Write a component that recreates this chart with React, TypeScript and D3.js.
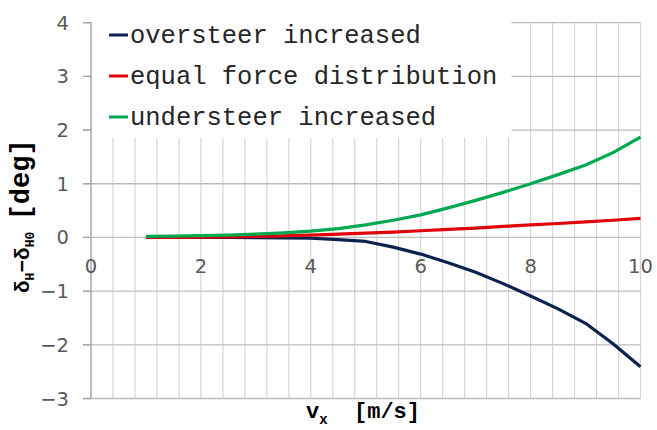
import React from "react";
import * as d3 from "d3";

const xValues = [1, 1.5, 2, 2.5, 3, 3.5, 4, 4.5, 5, 5.5, 6, 6.5, 7, 7.5, 8, 8.5, 9, 9.5, 10];
const oversteer = [0, 0, 0, -0.001, -0.003, -0.008, -0.015, -0.04, -0.075, -0.18, -0.31, -0.47, -0.65, -0.86, -1.09, -1.33, -1.6, -1.98, -2.41];
const equalForce = [0, 0.002, 0.005, 0.01, 0.018, 0.028, 0.042, 0.06, 0.08, 0.1, 0.125, 0.15, 0.175, 0.205, 0.235, 0.26, 0.29, 0.32, 0.355];
const understeer = [0.02, 0.025, 0.033, 0.045, 0.062, 0.085, 0.118, 0.165, 0.235, 0.32, 0.42, 0.55, 0.69, 0.84, 1.0, 1.17, 1.35, 1.58, 1.87];

const seriesNames = ["oversteer increased", "equal force distribution", "understeer increased"];
const seriesColors = ["#0d2150", "#e0000b", "#00a84f"];
const seriesData = [oversteer, equalForce, understeer];

const xTicks = [0, 2, 4, 6, 8, 10];
const yTicks = [-3, -2, -1, 0, 1, 2, 3, 4];

export default function App() {
  const W = 657, H = 430;
  const x = d3.scaleLinear().domain([0, 10]).range([91, 640.5]);
  const y = d3.scaleLinear().domain([-3, 4]).range([398.5, 22.7]);
  const minorX = d3.range(0, 10.0001, 0.4).map((v) => +v.toFixed(2));
  const line = d3.line<[number, number]>().x((d) => x(d[0])).y((d) => y(d[1]));
  const sansFont = "'DejaVu Sans', sans-serif";
  const monoFont = "'Liberation Mono', 'Courier New', monospace";
  const legendRight = 511.5;
  const legendBottom = 138;

  return (
    <svg width={W} height={H} style={{ position: "absolute", left: 0, top: 0, background: "#fff" }}>
      {/* vertical minor gridlines */}
      {minorX.slice(1).map((v, i) => (
        <line key={"vx" + i} x1={x(v)} x2={x(v)} y1={y(4)} y2={y(-3)} stroke="#d6d6d6" strokeWidth={1.2} />
      ))}
      {/* horizontal gridlines */}
      {yTicks.map((v) => (
        <line key={"hy" + v} x1={x(0) - 8} x2={x(10)} y1={y(v)} y2={y(v)} stroke="#bdbdbd" strokeWidth={1.3} />
      ))}
      {/* legend box */}
      <rect x={x(0) + 1} y={0} width={legendRight - x(0) - 1} height={legendBottom} fill="#fff" />
      {/* y axis line */}
      <line x1={x(0)} x2={x(0)} y1={y(4)} y2={y(-3)} stroke="#a6a6a6" strokeWidth={1.5} />
      {/* y ticks left */}
      {yTicks.map((v) => (
        <line key={"yt" + v} x1={x(0) - 8} x2={x(0)} y1={y(v)} y2={y(v)} stroke="#a6a6a6" strokeWidth={1.3} />
      ))}
      {/* y tick labels */}
      {yTicks.map((v) => (
        <text key={"yl" + v} x={69} y={y(v)} dy="0.36em" textAnchor="end" fontFamily={sansFont} fontSize={19.5} fill="#595959">
          {v < 0 ? "\u2212" + Math.abs(v) : String(v)}
        </text>
      ))}
      {/* x tick labels */}
      {xTicks.map((v) => (
        <text key={"xl" + v} x={x(v)} y={266} dy="0.36em" textAnchor="middle" fontFamily={sansFont} fontSize={19.5} fill="#595959">
          {String(v)}
        </text>
      ))}
      {/* series */}
      {seriesData.map((s, i) => (
        <path key={"s" + i} d={line(xValues.map((xv, j) => [xv, s[j]] as [number, number])) || ""} fill="none" stroke={seriesColors[i]} strokeWidth={3.2} strokeLinejoin="round" />
      ))}
      {/* legend */}
      {seriesNames.map((n, i) => (
        <g key={"lg" + i}>
          <line x1={109} x2={128} y1={35 + i * 41} y2={35 + i * 41} stroke={seriesColors[i]} strokeWidth={3} />
          <text x={130} y={35 + i * 41} dy="0.32em" fontFamily={monoFont} fontSize={25.5} fill="#262626">
            {n}
          </text>
        </g>
      ))}
      {/* x axis title */}
      <text x={306} y={418} fontFamily={monoFont} fontSize={22} fontWeight="bold" fill="#000">
        v<tspan fontSize={14} dy={6}>x</tspan>
        <tspan dy={-6} fontSize={22}>{"\u00a0\u00a0[m/s]"}</tspan>
      </text>
      {/* y axis title */}
      <text transform={`translate(29,293) rotate(-90)`} fontFamily={monoFont} fontWeight="bold" fill="#000">
        <tspan fontSize={21}>δ</tspan>
        <tspan fontSize={13} dy={5}>H</tspan>
        <tspan dy={-5} fontSize={21}>{"\u2212δ"}</tspan>
        <tspan fontSize={13} dy={5}>H0</tspan>
        <tspan dy={-5} fontSize={19}>{"\u00a0"}</tspan>
        <tspan fontSize={27}>[deg]</tspan>
      </text>
    </svg>
  );
}
